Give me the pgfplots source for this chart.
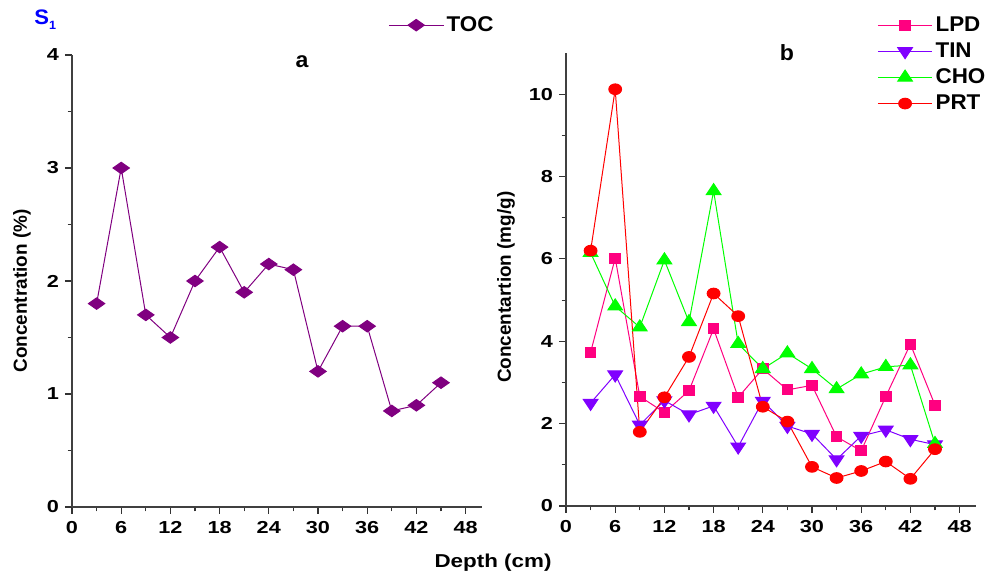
\documentclass[border=0pt]{standalone}
\usepackage{fontspec}
\setmainfont{Liberation Sans}
\newfontfamily\tickfont{Liberation Sans Bold}[FakeStretch=1.25]
\newfontfamily\labfont{Liberation Sans Bold}[FakeStretch=1.2]
\newfontfamily\legfont{Liberation Sans Bold}[FakeStretch=1.05]
\newfontfamily\ylabfont{Liberation Sans Bold}
\usepackage{pgfplots}
\pgfplotsset{compat=1.18}
\definecolor{tocc}{RGB}{128,0,128}
\definecolor{lpdc}{RGB}{255,0,128}
\definecolor{tinc}{RGB}{128,0,255}
\definecolor{choc}{RGB}{0,255,0}
\definecolor{prtc}{RGB}{255,0,0}
\pgfplotsset{
  common/.style={
    scale only axis, width=307.5pt,
    axis x line*=bottom, axis y line*=left,
    xmin=0, xmax=50, xtick={0,6,...,48}, minor x tick num=1,
    tick align=outside,
    major tick length=5.25pt, minor tick length=3.2pt,
    every tick/.style={black!80, line width=0.8pt},
    axis line style={black!75, line width=0.9pt},
    /pgf/number format/assume math mode=true,
    tick label style={font=\tickfont\fontsize{13pt}{14pt}\selectfont},
    xticklabel style={yshift=-2pt},
    yticklabel style={xshift=-1pt},
    clip=false,
    legend style={draw=none, fill=none, inner sep=0pt, font=\legfont\fontsize{16pt}{18pt}\selectfont, cells={anchor=west}},
    legend image code/.code={\draw[mark repeat=2,mark phase=2,line width=0.75pt] plot coordinates {(0pt,0pt)(20.5pt,0pt)(41pt,0pt)};},
  }
}
\begin{document}
\begin{tikzpicture}
\path[use as bounding box] (0,0) rectangle (742.5pt,431.25pt);
% panel a
\begin{axis}[common, at={(54pt,51pt)}, anchor=south west, height=339pt,
  ymin=0, ymax=4, ytick={0,1,2,3,4}, minor y tick num=1,
  ylabel={Concentration (\%)},
  ylabel style={at={(axis description cs:-0.122,0.478)}, anchor=center, font=\ylabfont\fontsize{14.2pt}{16pt}\selectfont},
  legend style={at={(axis description cs:0.771,1.066)}, anchor=west},
]
\addplot[color=tocc, line width=0.75pt, mark=diamond*, mark size=4.3pt, mark options={xscale=1.9, fill=tocc}] coordinates {
(3,1.8)(6,3.0)(9,1.7)(12,1.5)(15,2.0)(18,2.3)(21,1.9)(24,2.15)(27,2.1)(30,1.2)(33,1.6)(36,1.6)(39,0.85)(42,0.9)(45,1.1)};
\addlegendentry{TOC}
\end{axis}
% panel b
\begin{axis}[common, at={(424.5pt,51.75pt)}, anchor=south west, height=339.75pt,
  ymin=0, ymax=11, ytick={0,2,...,10}, minor y tick num=1,
  ylabel={Concentartion (mg/g)},
  ylabel style={at={(axis description cs:-0.146,0.483)}, anchor=center, font=\ylabfont\fontsize{14.2pt}{16pt}\selectfont},
  legend style={at={(axis description cs:0.7585,1.086)}, anchor=north west, row sep=3pt},
]
\addplot[color=lpdc, line width=0.75pt, mark=square*, mark size=3.75pt, mark options={xscale=1.07, fill=lpdc}] coordinates {
(3,3.73)(6,6.02)(9,2.66)(12,2.27)(15,2.8)(18,4.30)(21,2.64)(24,3.33)(27,2.82)(30,2.93)(33,1.68)(36,1.34)(39,2.66)(42,3.93)(45,2.45)};
\addlegendentry{LPD}
\addplot[color=tinc, line width=0.75pt, mark=triangle*, mark size=5.5pt, mark options={xscale=1.15, rotate=180, fill=tinc}] coordinates {
(3,2.5)(6,3.19)(9,1.97)(12,2.56)(15,2.22)(18,2.43)(21,1.44)(24,2.55)(27,1.94)(30,1.75)(33,1.13)(36,1.70)(39,1.85)(42,1.62)(45,1.49)};
\addlegendentry{TIN}
\addplot[color=choc, line width=0.75pt, mark=triangle*, mark size=5.5pt, mark options={xscale=1.15, fill=choc}] coordinates {
(3,6.15)(6,4.85)(9,4.34)(12,5.97)(15,4.47)(18,7.65)(21,3.94)(24,3.33)(27,3.71)(30,3.33)(33,2.84)(36,3.2)(39,3.38)(42,3.42)(45,1.51)};
\addlegendentry{CHO}
\addplot[color=prtc, line width=0.75pt, mark=*, mark size=4pt, mark options={xscale=1.2, fill=prtc}] coordinates {
(3,6.2)(6,10.12)(9,1.8)(12,2.64)(15,3.62)(18,5.16)(21,4.61)(24,2.41)(27,2.05)(30,0.95)(33,0.68)(36,0.85)(39,1.08)(42,0.66)(45,1.38)};
\addlegendentry{PRT}
\end{axis}
\node[font=\labfont\fontsize{14pt}{16pt}\selectfont] at (369.75pt,9pt) {Depth (cm)};
\node[font=\legfont\fontsize{16.5pt}{18pt}\selectfont] at (226.5pt,384.75pt) {a};
\node[font=\legfont\fontsize{16.5pt}{18pt}\selectfont] at (590.25pt,391.5pt) {b};
\node[font=\legfont\fontsize{15.75pt}{18pt}\selectfont, text=blue, anchor=center] at (34pt,416.25pt) {S\raisebox{-0.45ex}{\fontsize{9pt}{10pt}\selectfont 1}};
\end{tikzpicture}
\end{document}
